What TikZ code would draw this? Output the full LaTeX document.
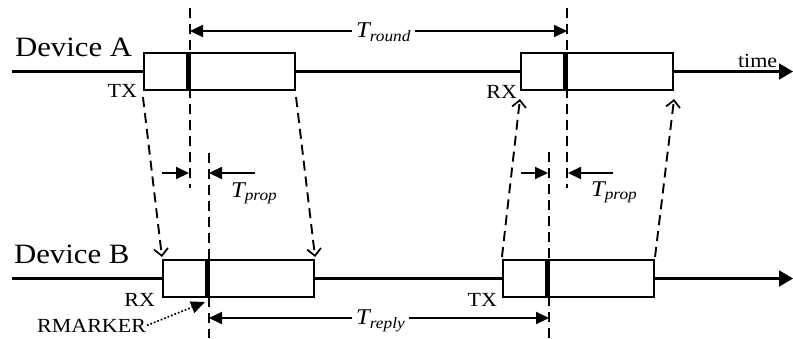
\documentclass[tikz,border=0pt]{standalone}
\usepackage{fontspec}
\setmainfont[FakeStretch=1.1]{Liberation Serif}
\usetikzlibrary{arrows.meta,calc}

\tikzset{
  pkt/.style={draw,line width=2.1pt,fill=white,inner sep=0pt,minimum width=151pt,minimum height=37pt},
  rmark/.style={line width=5pt},
  guide/.style={line width=1.9pt,dash pattern=on 10pt off 6pt},
  hop/.style={guide,-{Straight Barb[length=7pt,width=14pt,line width=1.7pt]}},
  dev/.style={font=\fontsize{28}{30}\selectfont,inner sep=0pt},
  lbl/.style={font=\fontsize{20}{22}\selectfont,inner sep=0pt},
  tlbl/.style={font=\fontsize{22.5}{25}\selectfont\itshape,inner sep=3pt}
}

\begin{document}
\begin{tikzpicture}[x=1pt,y=-1pt,line width=2.1pt,>={Triangle[length=13pt,width=12pt]}]
\useasboundingbox (0,0) rectangle (793,338);
% ---------- frames on both time lines ----------
\node[pkt] (a1) at (219.5,71.5) {};
\node[pkt,minimum width=152pt] (a2) at (597,71.5) {};
\node[pkt] (b1) at (238.5,278.5) {};
\node[pkt] (b2) at (578.5,278.5) {};
% time lines
\coordinate (aS) at (12,71.5);  \coordinate (aE) at (793,71.5);
\coordinate (bS) at (12,278.5); \coordinate (bE) at (793,278.5);
\draw (aS) -- (a1.west);
\draw (a1.east) -- (a2.west);
\draw[-{Triangle[length=14pt,width=16pt]}] (a2.east) -- (aE);
\draw (bS) -- (b1.west);
\draw (b1.east) -- (b2.west);
\draw[-{Triangle[length=14pt,width=16pt]}] (b2.east) -- (bE);
% RMARKER bars inside each frame
\foreach \n in {a1,a2,b1,b2}{
  \draw[rmark] ($(\n.north west)+(46,0)$) -- ($(\n.south west)+(46,0)$);
}
% ---------- vertical guides ----------
\coordinate (g1t) at (190,8);   \coordinate (g1b) at (190,188);
\coordinate (g2t) at (209,153); \coordinate (g2b) at (209,338);
\coordinate (g3t) at (567,8);   \coordinate (g3b) at (567,188);
\coordinate (g4t) at (549,152); \coordinate (g4b) at (549,338);
\foreach \g in {g1,g2,g3,g4}{
  \draw[guide] (\g t) -- (\g b);
}
% ---------- propagation of the frames ----------
\draw[hop] ($(a1.south west)+(0,6)$) -- ($(b1.north west)+(0,-2)$);
\draw[hop] ($(a1.south east)+(0,6)$) -- ($(b1.north east)+(0,-2)$);
\draw[hop] ($(b2.north west)+(0,-2)$) -- ($(a2.south west)+(0,8)$);
\draw[hop] ($(b2.north east)+(0,-2)$) -- ($(a2.south east)+(0,8)$);
% ---------- labels ----------
\node[dev,anchor=base west] (devA) at (14,56) {Device A};
\node[dev,anchor=base west] (devB) at (13,263) {Device B};
\node[lbl,anchor=base east] (txA) at (138,97) {TX};
\node[lbl,anchor=base east] (rxA) at (518,98) {RX};
\node[lbl,anchor=base east] (rxB) at (156,306) {RX};
\node[lbl,anchor=base east] (txB) at (498,306) {TX};
\node[lbl,anchor=base west] (time) at (737,67) {time};
\node[lbl,anchor=base east] (rmk) at (147,332) {RMARKER};
\coordinate (mk) at (205,302);
\draw[dotted,line width=1.7pt,-{Triangle[length=14pt,width=12pt]}] (rmk.east) -- (mk);
% T_round
\coordinate (r1) at (190,31); \coordinate (r2) at (567,31);
\node[tlbl,anchor=base west] (tround) at (352,37.5) {T\textsubscript{round}};
\draw[->] (tround.west |- r1) -- (r1);
\draw[->] (tround.east |- r2) -- (r2);
% T_reply
\coordinate (y1) at (209,318); \coordinate (y2) at (549,318);
\node[tlbl,anchor=base west] (treply) at (352,324.5) {T\textsubscript{reply}};
\draw[->] (treply.west |- y1) -- (y1);
\draw[->] (treply.east |- y2) -- (y2);
% T_prop (twice)
\coordinate (p1a) at (162,173); \coordinate (p1b) at (189,173);
\coordinate (p1c) at (255,173); \coordinate (p1d) at (209,173);
\coordinate (p2a) at (521,173); \coordinate (p2b) at (548,173);
\coordinate (p2c) at (613,173); \coordinate (p2d) at (568,173);
\draw[->] (p1a) -- (p1b); \draw[->] (p1c) -- (p1d);
\draw[->] (p2a) -- (p2b); \draw[->] (p2c) -- (p2d);
\node[tlbl,inner sep=0pt,anchor=base west] (tprop1) at (230,197) {T\textsubscript{prop}};
\node[tlbl,inner sep=0pt,anchor=base west] (tprop2) at (590,196) {T\textsubscript{prop}};
\end{tikzpicture}
\end{document}
